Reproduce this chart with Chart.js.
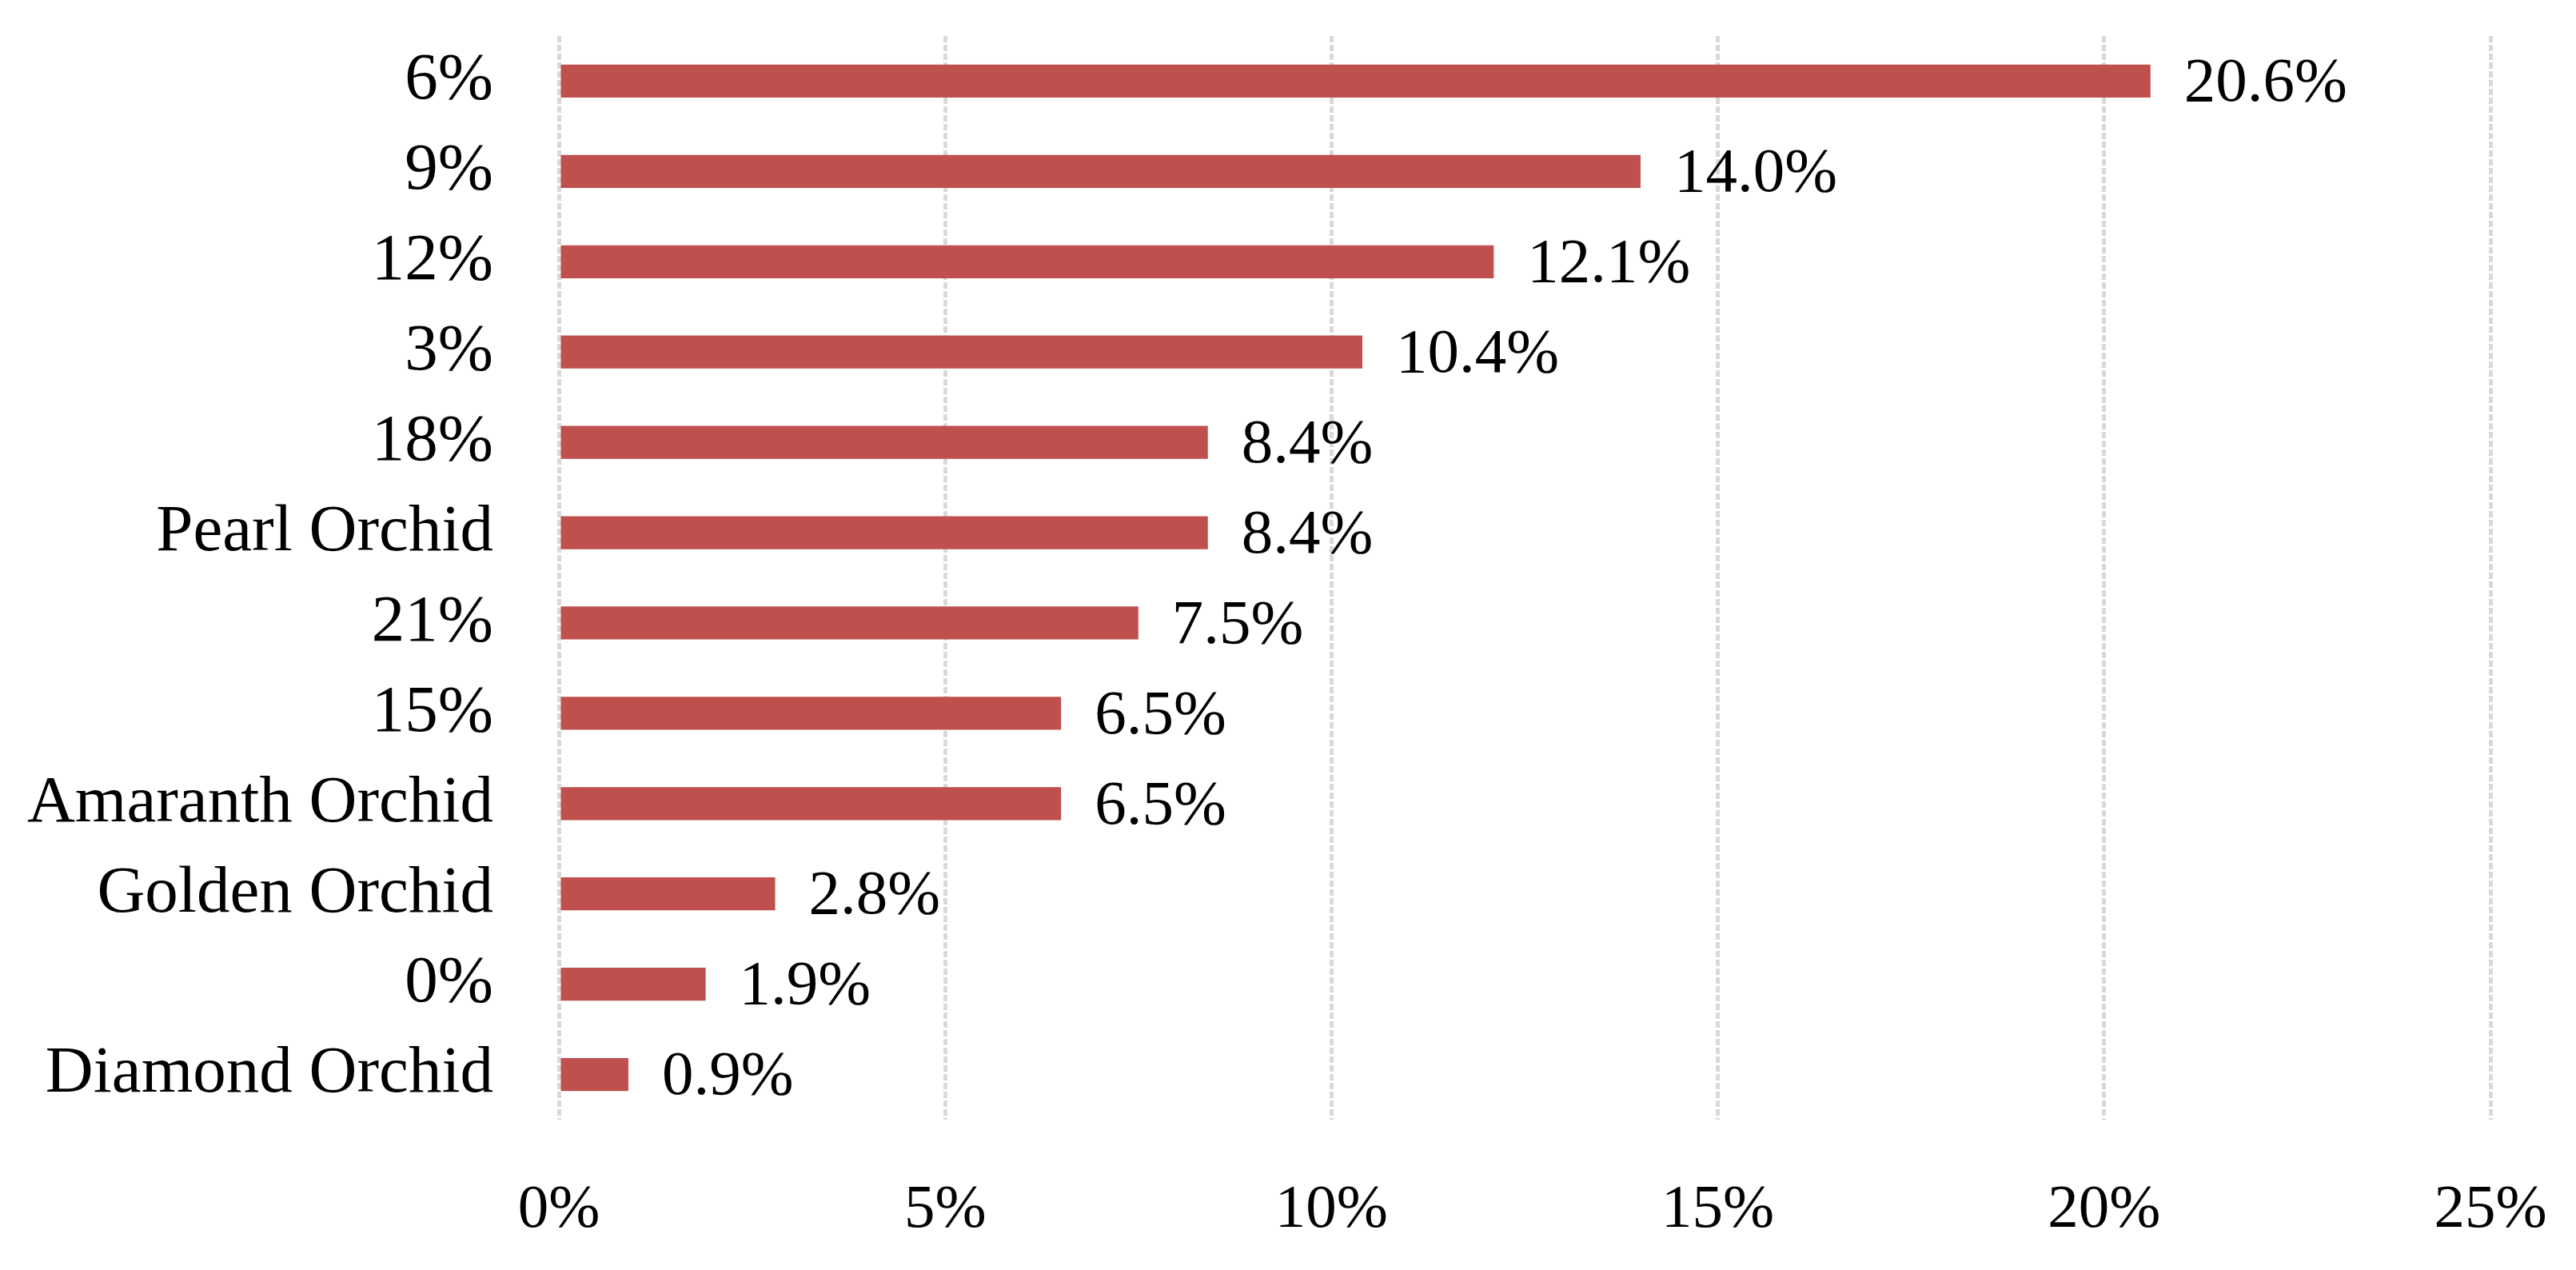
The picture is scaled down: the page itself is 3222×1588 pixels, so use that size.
<!DOCTYPE html>
<html>
<head>
<meta charset="utf-8">
<script src="https://cdn.jsdelivr.net/npm/chart.js@4.4.0/dist/chart.umd.min.js"></script>
<style>
  body { margin: 0; background: #fff; }
  #wrap { width: 3222px; height: 1588px; }
</style>
</head>
<body>
<div id="wrap"><canvas id="orchidChart" width="3222" height="1588"></canvas></div>
<script>
// categories, top to bottom as in the picture
const categoryLabels = ["6%", "9%", "12%", "3%", "18%", "Pearl Orchid", "21%", "15%",
  "Amaranth Orchid", "Golden Orchid", "0%", "Diamond Orchid"];
// share values (%)
const shareValues = [20.6, 14.0, 12.1, 10.4, 8.4, 8.4, 7.5, 6.5, 6.5, 2.8, 1.9, 0.9];
// x axis ticks
const axisMin = 0;
const axisMax = 25;
const axisStep = 5;

const serif = '"Liberation Serif", "DejaVu Serif", serif';

// draws the value text at the end of each bar
const barLabels = {
  id: "barLabels",
  afterDatasetsDraw(chart) {
    const ctx = chart.ctx;
    const meta = chart.getDatasetMeta(0);
    ctx.save();
    ctx.font = "79px " + serif;
    ctx.fillStyle = "#000";
    ctx.textAlign = "left";
    ctx.textBaseline = "middle";
    meta.data.forEach((bar, i) => {
      ctx.fillText(shareValues[i].toFixed(1) + "%", bar.x + 42, bar.y + 4);
    });
    ctx.restore();
  },
};

const ctx = document.getElementById("orchidChart").getContext("2d");
const orchidChart = new Chart(ctx, {
  type: "bar",
  data: {
    labels: categoryLabels,
    datasets: [
      {
        data: shareValues,
        backgroundColor: "#C0504D",
        borderWidth: 0,
        categoryPercentage: 1,
        barPercentage: 0.365,
      },
    ],
  },
  options: {
    indexAxis: "y",
    responsive: false,
    animation: false,
    devicePixelRatio: 1,
    layout: { padding: { top: 45, right: 107, left: 0, bottom: 0 } },
    plugins: {
      legend: { display: false },
      tooltip: { enabled: false },
    },
    scales: {
      x: {
        min: axisMin,
        max: axisMax,
        border: { display: false, dash: [8, 3] },
        grid: {
          color: "#D9D9D9",
          lineWidth: 5,
          drawTicks: false,
        },
        ticks: {
          stepSize: axisStep,
          padding: 68,
          color: "#000",
          font: { family: serif, size: 77 },
          callback: (v) => v + "%",
        },
        afterFit: (scale) => {
          scale.height = 188;
          scale.paddingLeft = 0;
          scale.paddingRight = 0;
        },
      },
      y: {
        border: { display: false },
        grid: { display: false, drawTicks: false },
        ticks: {
          padding: 82,
          color: "#000",
          font: { family: serif, size: 83 },
        },
        afterFit: (scale) => {
          scale.width = 699;
          scale.paddingTop = 0;
          scale.paddingBottom = 0;
        },
      },
    },
  },
  plugins: [barLabels],
});
</script>
</body>
</html>
